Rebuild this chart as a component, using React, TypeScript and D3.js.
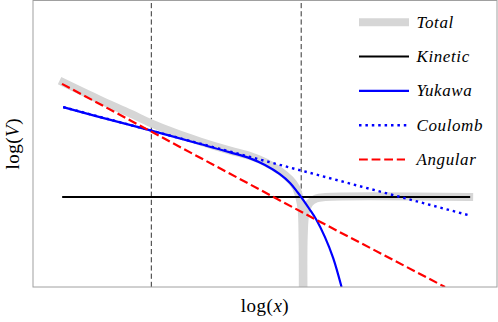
import React from 'react';
import * as d3 from 'd3';

// puntos, en unidades arbitrarias (log x, log V) de 0 a 100
const totalIzq: [number, number][] = [
  [6.5, 71.4], [14.4, 65.3], [20.9, 60.6], [25.5, 57.1], [30.6, 53.8], [36.0, 50.8],
  [42.5, 47.6], [46.8, 45.7], [50.0, 43.6], [53.2, 40.5], [55.4, 37.5], [56.7, 34.7],
  [57.4, 31.4], [57.9, 26.9], [58.1, 16.4], [58.15, -1.8],
];
const totalDer: [number, number][] = [
  [58.3, -1.8], [58.35, 18.0], [58.7, 25.5], [59.6, 29.3], [61.0, 30.9], [63.0, 31.4], [94.0, 31.4],
];
const cinetica: [number, number][] = [[6.5, 31.4], [94.0, 31.4]];
const yukawa: [number, number][] = [
  [6.5, 62.8], [14.4, 59.3], [25.5, 54.6], [36.0, 49.9], [42.5, 47.0], [46.8, 44.9],
  [50.0, 42.6], [53.2, 39.4], [55.4, 36.3], [56.9, 33.3], [57.8, 31.4], [59.5, 27.4],
  [61.1, 23.4], [62.9, 17.5], [64.7, 10.1], [66.5, 0],
];
const coulomb: [number, number][] = [[6.5, 62.8], [93.8, 25.1]];
const angular: [number, number][] = [[6.25, 70.9], [61.1, 23.4], [88.8, 0]];
const verticales = [25.5, 57.8];

const leyenda = [
  { label: 'Total', color: '#d6d6d6', width: 8, dash: null, len: 50 },
  { label: 'Kinetic', color: '#000', width: 2, dash: null, len: 50 },
  { label: 'Yukawa', color: '#0000ff', width: 2.2, dash: null, len: 50 },
  { label: 'Coulomb', color: '#0000ff', width: 2.4, dash: '2.5,3.9', len: 48 },
  { label: 'Angular', color: '#ff0000', width: 2.2, dash: '8.8,3.8', len: 46 },
];

const fuente = "'Liberation Serif', serif";

export default function App() {
  const width = 498;
  const height = 322;
  const margin = { top: 0.5, right: 1, bottom: 35, left: 33 };
  const x = d3.scaleLinear().domain([0, 100]).range([margin.left, width - margin.right]);
  const y = d3.scaleLinear().domain([0, 100]).range([height - margin.bottom, margin.top]);
  const line = d3.line<[number, number]>().x(d => x(d[0])).y(d => y(d[1]));
  const curva = d3.line<[number, number]>().x(d => x(d[0])).y(d => y(d[1])).curve(d3.curveCatmullRom.alpha(0.5));
  const x0 = x(0), x1 = x(100), y0 = y(0), y1 = y(100);

  return (
    <svg width={width} height={height} style={{ position: 'absolute', left: 0, top: 0, background: '#fff' }}>
      <defs>
        <clipPath id="area">
          <rect x={x0} y={y1} width={x1 - x0} height={y0 - y1} />
        </clipPath>
      </defs>
      <g clipPath="url(#area)" fill="none">
        {/* lineas verticales */}
        {verticales.map(v => (
          <line key={v} x1={x(v)} x2={x(v)} y1={y0} y2={y1} stroke="#333" strokeWidth={1} strokeDasharray="5.2,3" />
        ))}
        <path d={curva(totalIzq) || ''} stroke="#d6d6d6" strokeWidth={8} strokeLinecap="square" strokeLinejoin="round" />
        <path d={curva(totalDer) || ''} stroke="#d6d6d6" strokeWidth={8} strokeLinecap="square" strokeLinejoin="round" />
        <path d={line(cinetica) || ''} stroke="#000" strokeWidth={2} strokeLinecap="square" />
        <path d={curva(yukawa) || ''} stroke="#0000ff" strokeWidth={2.2} />
        <path d={line(coulomb) || ''} stroke="#0000ff" strokeWidth={2.4} strokeDasharray="2.5,3.9" />
        <path d={line(angular) || ''} stroke="#ff0000" strokeWidth={2.2} strokeDasharray="8.8,3.8" />
      </g>
      {/* marco */}
      <rect x={x0} y={y1} width={x1 - x0} height={y0 - y1} fill="none" stroke="#a0a0a0" strokeWidth={1} />
      {/* leyenda */}
      <g>
        {leyenda.map((item, i) => {
          const cy = 22.3 + i * 34.3;
          return (
            <g key={item.label}>
              <line x1={359} x2={359 + item.len} y1={cy} y2={cy} stroke={item.color} strokeWidth={item.width}
                strokeDasharray={item.dash || undefined} />
              <text x={416.5} y={cy + 5.3} fontFamily={fuente} fontStyle="italic" fontSize={17}
                letterSpacing={0.6} fill="#000">{item.label}</text>
            </g>
          );
        })}
      </g>
      {/* etiquetas de ejes */}
      <text x={(x0 + x1) / 2} y={312} textAnchor="middle" fontFamily={fuente} fontSize={19} letterSpacing={0.5} fill="#000">
        log(<tspan fontStyle="italic">x</tspan>)
      </text>
      <text transform={`translate(19,${(y0 + y1) / 2}) rotate(-90)`} textAnchor="middle" fontFamily={fuente}
        fontSize={19} letterSpacing={0.5} fill="#000">
        log(<tspan fontStyle="italic">V</tspan>)
      </text>
    </svg>
  );
}
